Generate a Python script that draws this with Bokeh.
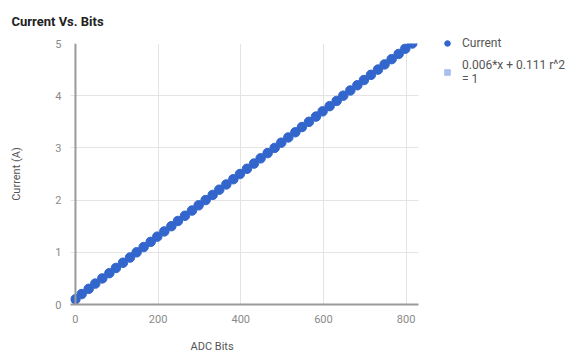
from bokeh.plotting import figure
from bokeh.models import (ColumnDataSource, FixedTicker, Span, Legend, LegendItem, Range1d, Title)
from bokeh.embed import file_html
from bokeh.resources import INLINE

# ---- data ----
adc_bits = [0, 15, 32, 48, 65, 82, 98, 115, 132, 148,
            165, 182, 198, 215, 232, 248, 265, 282, 298, 315,
            332, 348, 365, 382, 398, 415, 432, 448, 465, 482,
            498, 515, 532, 548, 565, 582, 598, 615, 632, 648,
            665, 682, 698, 715, 732, 748, 765, 782, 798, 815]
current = [0.1, 0.2, 0.3, 0.4, 0.5, 0.6, 0.7, 0.8, 0.9, 1.0,
           1.1, 1.2, 1.3, 1.4, 1.5, 1.6, 1.7, 1.8, 1.9, 2.0,
           2.1, 2.2, 2.3, 2.4, 2.5, 2.6, 2.7, 2.8, 2.9, 3.0,
           3.1, 3.2, 3.3, 3.4, 3.5, 3.6, 3.7, 3.8, 3.9, 4.0,
           4.1, 4.2, 4.3, 4.4, 4.5, 4.6, 4.7, 4.8, 4.9, 5.0]
trend_slope = 0.006
trend_intercept = 0.111
x_ticks = [0, 200, 400, 600, 800]
y_ticks = [0, 1, 2, 3, 4, 5]
title_text = "Current Vs. Bits"
x_title = "ADC Bits"
y_title = "Current (A)"
series_label = "Current"
trend_label = "0.006*x + 0.111 r^2\n= 1"

FONT = "Roboto"
BLUE = "#3366cc"
LIGHT = "#a9bff0"

p = figure(frame_width=348, frame_height=261, output_backend="svg", toolbar_location=None,
           x_range=Range1d(-12, 830), y_range=Range1d(0, 5),
           min_border_left=70, min_border_right=10, min_border_top=42,
           min_border_bottom=10)
p.outline_line_color = None

p.title.text = title_text
p.title.text_font = FONT
p.title.text_font_size = "13px"
p.title.text_font_style = "bold"
p.title.text_color = "#222222"
p.title.align = "left"
p.title.vertical_align = "top"
p.title.offset = -59
p.title.standoff = 26

# trendline (behind dots)
tx = [min(adc_bits), max(adc_bits)]
ty = [trend_slope * v + trend_intercept for v in tx]
p.line(tx, ty, line_color=LIGHT, line_width=2)

src = ColumnDataSource(dict(x=adc_bits, y=current))
pts = p.scatter("x", "y", source=src, size=9.5, fill_color=BLUE, line_color=BLUE)

dummy = p.scatter([0], [0], marker="square", size=14, fill_color=LIGHT, line_color=LIGHT,
                  visible=False)

# axes
p.xaxis.ticker = FixedTicker(ticks=x_ticks)
p.yaxis.ticker = FixedTicker(ticks=y_ticks)
for ax in (p.xaxis[0], p.yaxis[0]):
    ax.major_label_text_font = FONT
    ax.major_label_text_font_size = "11px"
    ax.major_label_text_color = "#8a8a8a"
    ax.major_tick_line_color = None
    ax.minor_tick_line_color = None
    ax.axis_label_text_font = FONT
    ax.axis_label_text_font_size = "11px"
    ax.axis_label_text_font_style = "normal"
    ax.axis_label_text_color = "#555555"
p.yaxis.axis_label = y_title
p.xaxis.axis_line_color = "#9a9a9a"
p.xaxis.axis_line_width = 2
p.yaxis.axis_line_color = None
p.xaxis.major_label_standoff = 4
p.yaxis.major_label_standoff = 3
p.yaxis.axis_label_standoff = 29

p.add_layout(Title(text=x_title, align="left", offset=120, standoff=24,
                   text_font=FONT, text_font_size="11px", text_font_style="normal",
                   text_color="#555555"), "below")

p.xgrid.grid_line_color = "#e4e4e4"
p.ygrid.grid_line_color = "#e4e4e4"
p.xgrid.ticker = FixedTicker(ticks=x_ticks)
p.ygrid.ticker = FixedTicker(ticks=y_ticks)

p.add_layout(Span(location=0, dimension="height", line_color="#9a9a9a", line_width=2))

legend = Legend(items=[LegendItem(label=series_label, renderers=[pts]),
                       LegendItem(label=trend_label, renderers=[dummy])],
                location=(22, 218), border_line_color=None,
                background_fill_alpha=0, label_text_font=FONT,
                label_text_font_size="12px", label_text_color="#555555",
                glyph_width=14, glyph_height=14, label_standoff=8,
                spacing=8, padding=0, margin=0)
p.add_layout(legend, "right")

with open("out.html", "w") as f:
    f.write(file_html(p, INLINE))
